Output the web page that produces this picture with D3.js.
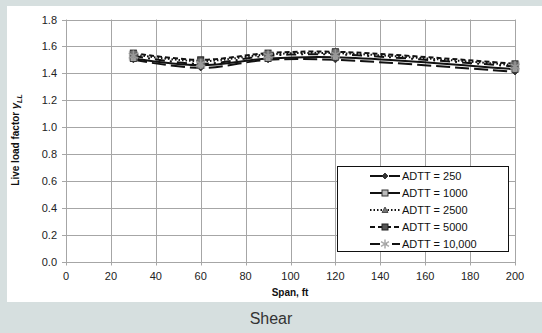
<!DOCTYPE html>
<html>
<head>
<meta charset="utf-8">
<script src="https://cdn.jsdelivr.net/npm/d3@7"></script>
<style>
  body { margin: 0; background: #d6dfdf; }
  svg { display: block; font-family: "Liberation Sans", Arial, sans-serif; }
</style>
</head>
<body>
<svg id="chart" width="542" height="333"></svg>
<script>
// data
var spans = [30, 60, 90, 120, 200];
var adtt250 = [1.50, 1.44, 1.50, 1.50, 1.41];
var adtt1000 = [1.51, 1.46, 1.51, 1.52, 1.43];
var adtt2500 = [1.54, 1.49, 1.54, 1.55, 1.46];
var adtt5000 = [1.55, 1.50, 1.55, 1.56, 1.47];
var adtt10000 = [1.53, 1.47, 1.53, 1.54, 1.45];
var seriesNames = ["ADTT = 250", "ADTT = 1000", "ADTT = 2500", "ADTT = 5000", "ADTT = 10,000"];
var xTicks = [0, 20, 40, 60, 80, 100, 120, 140, 160, 180, 200];
var yTicks = [0, 0.2, 0.4, 0.6, 0.8, 1.0, 1.2, 1.4, 1.6, 1.8];

var series = [
  {name: seriesNames[0], vals: adtt250, dash: "14,5", marker: "diamond", fill: "#333"},
  {name: seriesNames[1], vals: adtt1000, dash: null, marker: "square", fill: "#bbb"},
  {name: seriesNames[2], vals: adtt2500, dash: "1.5,2", marker: "triangle", fill: "#777"},
  {name: seriesNames[3], vals: adtt5000, dash: "5,3", marker: "squareDark", fill: "#555"},
  {name: seriesNames[4], vals: adtt10000, dash: "10,5,2,5", marker: "star", fill: "#aaa"}
];

var svg = d3.select("#chart");

// white panel
svg.append("rect").attr("x", 7).attr("y", 6).attr("width", 535).attr("height", 296).attr("fill", "#fff");

var x = d3.scaleLinear().domain([0, 200]).range([66, 515]);
var y = d3.scaleLinear().domain([0, 1.8]).range([261.5, 19.5]);

// grid
var grid = svg.append("g").attr("stroke", "#a6a6a6").attr("stroke-width", 1);
grid.selectAll(".gx").data(xTicks).enter().append("line")
  .attr("x1", function(d){ return Math.round(x(d)) + 0.5; })
  .attr("x2", function(d){ return Math.round(x(d)) + 0.5; })
  .attr("y1", y(1.8)).attr("y2", y(0) + 4);
grid.selectAll(".gy").data(yTicks).enter().append("line")
  .attr("y1", function(d){ return Math.round(y(d)) + 0.5; })
  .attr("y2", function(d){ return Math.round(y(d)) + 0.5; })
  .attr("x1", x(0) - 4).attr("x2", x(200));

// tick labels
svg.append("g").selectAll("text").data(xTicks).enter().append("text")
  .attr("x", function(d){ return x(d); }).attr("y", 280)
  .attr("text-anchor", "middle").attr("font-size", 11).attr("fill", "#222")
  .text(function(d){ return d; });
svg.append("g").selectAll("text").data(yTicks).enter().append("text")
  .attr("x", 57).attr("y", function(d){ return y(d) + 4; })
  .attr("text-anchor", "end").attr("font-size", 11).attr("fill", "#222")
  .text(function(d){ return d3.format(".1f")(d); });

// axis titles
svg.append("text").attr("x", 290).attr("y", 296).attr("text-anchor", "middle")
  .attr("font-size", 10).attr("font-weight", "bold").attr("fill", "#111").text("Span, ft");
var yt = svg.append("text").attr("transform", "translate(19,140) rotate(-90)")
  .attr("text-anchor", "middle").attr("font-size", 10).attr("font-weight", "bold").attr("fill", "#111");
yt.append("tspan").text("Live load factor ");
yt.append("tspan").attr("font-style", "italic").attr("font-size", 11).text("γ");
yt.append("tspan").attr("font-style", "italic").attr("font-size", 7).attr("dy", 3).text("LL");

// caption
svg.append("text").attr("x", 271).attr("y", 324).attr("text-anchor", "middle")
  .attr("font-size", 16).attr("fill", "#333").text("Shear");

function drawMarker(g, type, cx, cy, fill, s) {
  if (type == "diamond") {
    g.append("path").attr("d", "M" + cx + "," + (cy - 3) + "l3,3l-3,3l-3,-3z")
      .attr("fill", fill).attr("stroke", "#222").attr("stroke-width", 0.8);
  } else if (type == "square") {
    g.append("rect").attr("x", cx - s/2).attr("y", cy - s/2).attr("width", s).attr("height", s)
      .attr("fill", fill).attr("stroke", "#333").attr("stroke-width", 1);
  } else if (type == "triangle") {
    g.append("path").attr("d", "M" + cx + "," + (cy - 3) + "l3,5.5h-6z")
      .attr("fill", fill).attr("stroke", "#333").attr("stroke-width", 0.8);
  } else if (type == "squareDark") {
    g.append("rect").attr("x", cx - s/2).attr("y", cy - s/2).attr("width", s).attr("height", s)
      .attr("fill", fill).attr("stroke", "#222").attr("stroke-width", 1);
  } else if (type == "star") {
    var p = d3.symbol().type(d3.symbolAsterisk).size(s * s * 1.2)();
    g.append("path").attr("d", p).attr("transform", "translate(" + cx + "," + cy + ")")
      .attr("fill", "none").attr("stroke", fill).attr("stroke-width", 1.5);
  }
}

// lines
var line = d3.line()
  .x(function(d){ return x(d[0]); })
  .y(function(d){ return y(d[1]); })
  .curve(d3.curveCatmullRom.alpha(0.5));

var plot = svg.append("g");
series.forEach(function(s){
  var pts = spans.map(function(sp, i){ return [sp, s.vals[i]]; });
  plot.append("path").datum(pts).attr("d", line)
    .attr("fill", "none").attr("stroke", "#111").attr("stroke-width", 2)
    .attr("stroke-dasharray", s.dash);
});
series.forEach(function(s){
  var mg = plot.append("g");
  spans.forEach(function(sp, i){
    drawMarker(mg, s.marker, x(sp), y(s.vals[i]), s.fill, s.marker == "star" ? 8 : 6);
  });
});
// big gray star markers dominate at data points
series.slice(4).forEach(function(s){
  spans.forEach(function(sp, i){
    plot.append("rect").attr("x", x(sp) - 4.5).attr("y", y(s.vals[i]) - 5).attr("width", 9).attr("height", 10)
      .attr("fill", "#888").attr("opacity", 0.55);
  });
});

// legend
var lg = svg.append("g");
lg.append("rect").attr("x", 337.5).attr("y", 166.5).attr("width", 171).attr("height", 85)
  .attr("fill", "#fff").attr("stroke", "#111").attr("stroke-width", 1);
series.forEach(function(s, i){
  var ly = 176 + i * 17;
  var g = lg.append("g");
  g.append("line").attr("x1", 370).attr("x2", 400).attr("y1", ly).attr("y2", ly)
    .attr("stroke", "#111").attr("stroke-width", 2).attr("stroke-dasharray", s.dash);
  drawMarker(g, s.marker, 385, ly, s.fill, s.marker == "star" ? 7 : 6);
  g.append("text").attr("x", 402).attr("y", ly + 4).attr("font-size", 11).attr("fill", "#111").text(s.name);
});
</script>
</body>
</html>
